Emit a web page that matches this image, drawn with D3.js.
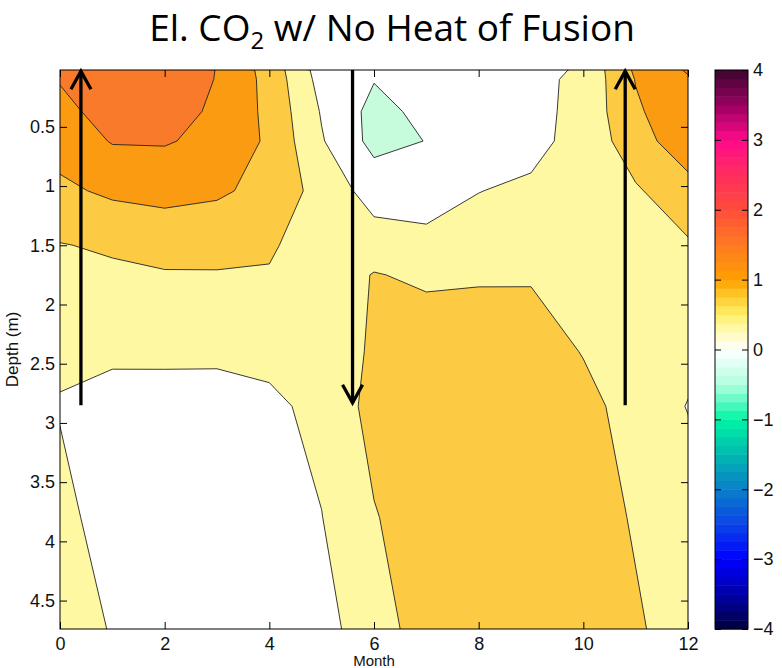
<!DOCTYPE html>
<html>
<head>
<meta charset="utf-8">
<script src="https://cdn.jsdelivr.net/npm/d3@7"></script>
<style>
  body { margin: 0; background: #fff; }
</style>
</head>
<body>
<div id="chart"></div>
<script>
// grid: months across, depth rows down
var months = [0, 1, 2, 3, 4, 5, 6, 7, 8, 9, 10, 11, 12];
var depths = [0.02, 0.10, 0.37, 0.62, 1.04, 1.50, 1.75, 2.40, 2.86, 3.80, 4.74];

// temperature difference, one row per depth
var diffRows = [
  [1.83, 2.05, 2.00, 1.74, 1.06, 0.02, -0.10, -0.05, 0.00, 0.01, 0.35, 1.33, 1.80],
  [1.78, 2.05, 1.90, 1.74, 1.09, 0.07, -0.23, -0.10, 0.05, 0.12, 0.36, 1.27, 1.70],
  [1.61, 1.95, 1.95, 1.67, 1.13, 0.21, -0.40, -0.125, 0.08, 0.10, 0.40, 1.18, 1.60],
  [1.45, 1.78, 1.79, 1.62, 1.17, 0.29, -0.40, -0.24, 0.15, 0.09, 0.45, 1.00, 1.61],
  [1.15, 1.34, 1.40, 1.32, 1.11, 0.555, 0.05, -0.05, 0.24, 0.34, 0.50, 0.70, 1.03],
  [0.73, 0.81, 0.93, 0.92, 0.835, 0.39, 0.47, 0.44, 0.47, 0.55, 0.55, 0.60, 0.70],
  [0.64, 0.67, 0.71, 0.715, 0.70, 0.40, 0.78, 0.65, 0.68, 0.69, 0.60, 0.55, 0.55],
  [0.39, 0.32, 0.33, 0.34, 0.38, 0.40, 0.83, 1.10, 1.13, 1.08, 0.72, 0.50, 0.35],
  [0.20, 0.10, 0.08, 0.05, 0.15, 0.38, 0.91, 1.10, 1.15, 1.10, 0.95, 0.485, 0.235],
  [0.48, -0.10, -0.10, -0.10, 0.00, 0.24, 0.72, 1.00, 1.10, 1.05, 0.95, 0.71, 0.45],
  [0.50, 0.22, 0.05, -0.05, 0.00, 0.035, 0.60, 0.90, 1.00, 0.95, 0.95, 0.80, 0.56]
];

var levels = [-0.25, 0.25, 0.75, 1.25, 1.75];
var bandColors = ["#c6fcdb", "#ffffff", "#fef8a2", "#fdcb43", "#fb9b12", "#f97a2a"];

var xTicks = [0, 2, 4, 6, 8, 10, 12];
var yTicks = [0.5, 1, 1.5, 2, 2.5, 3, 3.5, 4, 4.5];
var cbarTicks = [-4, -3, -2, -1, 0, 1, 2, 3, 4];

var cmapStops = [-4, -3.5, -3, -2.5, -2, -1.5, -1, -0.5, 0, 0.25, 0.5, 0.75, 1, 1.5, 2, 2.5, 3, 3.5, 4];
var cmapColors = ["#00003c", "#0000a8", "#0000ff", "#0a45e8", "#0a7fc8", "#00b8b0", "#00f5a5", "#b0ffdf",
  "#ffffff", "#fffab8", "#fff06a", "#ffcc30", "#ffa000", "#ff7a22", "#ff4d3a", "#ff2d5e", "#ff0a8a", "#9a0060", "#3d0430"];

// annotation arrows
var arrowMonth = [0.40, 5.59, 10.80];
var arrowFrom = [2.85, 0.02, 2.85];
var arrowTo = [0.03, 2.83, 0.03];

var W = 782, H = 668;
var pL = 60, pR = 688, pT = 70, pB = 629;
var labelFont = "'Liberation Sans', Arial, sans-serif";

var svg = d3.select("#chart").append("svg").attr("width", W).attr("height", H);

var x = d3.scaleLinear().domain([0, 12]).range([pL, pR]);
var y = d3.scaleLinear().domain([0.02, 4.74]).range([pT, pB]);

// grid index -> pixel, value k sits at k + 0.5
var xi = d3.scaleLinear().domain(months.map(function (m, i) { return i + 0.5; })).range(months.map(x));
var yi = d3.scaleLinear().domain(depths.map(function (d, j) { return j + 0.5; })).range(depths.map(y));

var path = d3.geoPath(d3.geoTransform({
  point: function (a, b) { this.stream.point(xi(a), yi(b)); }
}));

var values = [].concat.apply([], diffRows);
var bands = d3.contours().size([months.length, depths.length]).thresholds(levels)(values);

svg.append("defs").append("clipPath").attr("id", "plotclip")
  .append("rect").attr("x", pL).attr("y", pT).attr("width", pR - pL).attr("height", pB - pT);

var plot = svg.append("g").attr("clip-path", "url(#plotclip)");

plot.append("rect")
  .attr("x", pL).attr("y", pT).attr("width", pR - pL).attr("height", pB - pT)
  .attr("fill", bandColors[0]);

plot.selectAll("path.band").data(bands).enter().append("path")
  .attr("class", "band")
  .attr("d", path)
  .attr("fill", function (d, i) { return bandColors[i + 1]; })
  .attr("fill-rule", "evenodd")
  .attr("stroke", "none");

plot.selectAll("path.line").data(bands).enter().append("path")
  .attr("class", "line")
  .attr("d", path)
  .attr("fill", "none")
  .attr("stroke", "#222")
  .attr("stroke-width", 0.9);

// axes, ticks pointing in
function styleAxis(g) {
  g.select(".domain").remove();
  g.selectAll("line").attr("stroke", "#000");
  g.selectAll("text").attr("font-size", 18).attr("fill", "#111")
    .attr("font-family", labelFont);
}

svg.append("g").attr("transform", "translate(0," + pB + ")")
  .call(d3.axisBottom(x).tickValues(xTicks).tickSize(-7).tickPadding(8))
  .call(styleAxis);
svg.append("g").attr("transform", "translate(0," + pT + ")")
  .call(d3.axisTop(x).tickValues(xTicks).tickSize(-7).tickFormat(""))
  .call(styleAxis);
svg.append("g").attr("transform", "translate(" + pL + ",0)")
  .call(d3.axisLeft(y).tickValues(yTicks).tickSize(-7).tickPadding(5).tickFormat(function (d) { return String(d); }))
  .call(styleAxis);
svg.append("g").attr("transform", "translate(" + pR + ",0)")
  .call(d3.axisRight(y).tickValues(yTicks).tickSize(-7).tickFormat(""))
  .call(styleAxis);

svg.append("rect")
  .attr("x", pL).attr("y", pT).attr("width", pR - pL).attr("height", pB - pT)
  .attr("fill", "none").attr("stroke", "#000").attr("stroke-width", 1);

// arrows
arrowMonth.forEach(function (m, i) {
  var ax = x(m), y0 = y(arrowFrom[i]), y1 = y(arrowTo[i]);
  var dir = y1 < y0 ? 1 : -1;
  svg.append("line")
    .attr("x1", ax).attr("x2", ax).attr("y1", y0).attr("y2", y1)
    .attr("stroke", "#000").attr("stroke-width", 3.3);
  svg.append("path")
    .attr("d", "M" + (ax - 10) + "," + (y1 + dir * 18) + "L" + ax + "," + y1 + "L" + (ax + 10) + "," + (y1 + dir * 18))
    .attr("fill", "none").attr("stroke", "#000").attr("stroke-width", 3.3);
});

// colorbar
var cbLeft = 715, cbRight = 748;
var cb = d3.scaleLinear().domain([-4, 4]).range([pB, pT]);
var cmap = d3.scaleLinear().domain(cmapStops).range(cmapColors);
var steps = d3.range(64).map(function (k) { return -4 + k * 0.125; });

svg.append("g").selectAll("rect").data(steps).enter().append("rect")
  .attr("x", cbLeft)
  .attr("y", function (v) { return cb(v + 0.125); })
  .attr("width", cbRight - cbLeft)
  .attr("height", function (v) { return cb(v) - cb(v + 0.125) + 0.5; })
  .attr("fill", function (v) { return cmap(v + 0.0625); });

svg.append("g").attr("transform", "translate(" + cbRight + ",0)")
  .call(d3.axisRight(cb).tickValues(cbarTicks).tickSize(-6).tickPadding(5))
  .call(styleAxis);
svg.append("g").attr("transform", "translate(" + cbLeft + ",0)")
  .call(d3.axisLeft(cb).tickValues(cbarTicks).tickSize(-6).tickFormat(""))
  .call(styleAxis);
svg.append("rect")
  .attr("x", cbLeft).attr("y", pT).attr("width", cbRight - cbLeft).attr("height", pB - pT)
  .attr("fill", "none").attr("stroke", "#000").attr("stroke-width", 1);

// labels
svg.append("text")
  .attr("x", (pL + pR) / 2).attr("y", 666)
  .attr("text-anchor", "middle").attr("font-size", 15).attr("fill", "#111")
  .attr("font-family", labelFont)
  .text("Month");
svg.append("text")
  .attr("transform", "translate(18," + (pT + pB) / 2 + ") rotate(-90)")
  .attr("text-anchor", "middle").attr("font-size", 17).attr("fill", "#111")
  .attr("font-family", labelFont)
  .text("Depth (m)");

var title = svg.append("text")
  .attr("x", 392).attr("y", 41)
  .attr("text-anchor", "middle")
  .attr("font-family", "'Open Sans', sans-serif").attr("font-size", 37).attr("fill", "#000");
title.append("tspan").text("El. CO");
title.append("tspan").attr("font-size", 24).attr("dy", 8).text("2");
title.append("tspan").attr("dy", -8).text(" w/ No Heat of Fusion");
</script>
</body>
</html>
